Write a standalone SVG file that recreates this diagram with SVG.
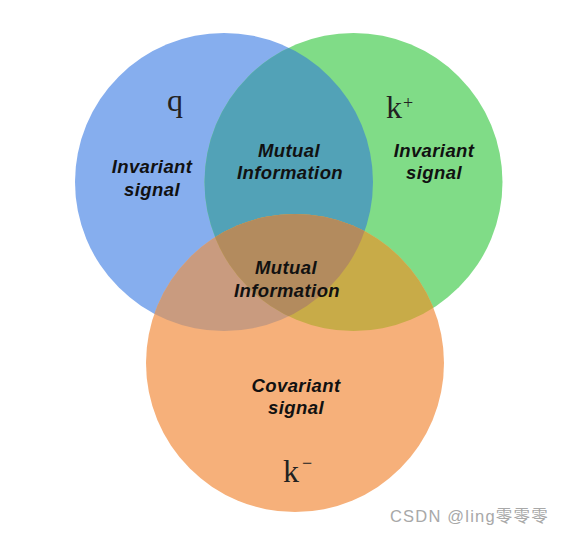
<svg xmlns="http://www.w3.org/2000/svg" width="562" height="536" viewBox="0 0 562 536">
<style>
.lbl{font-family:"Liberation Sans",Arial,sans-serif;font-weight:bold;font-style:italic;font-size:18.5px;fill:#111;text-anchor:middle;letter-spacing:0.4px}
.math{font-family:"Liberation Serif","Times New Roman",serif;fill:#222}
.wm{font-family:"Liberation Sans",Arial,"Noto Sans CJK SC",sans-serif;font-size:16.5px;fill:#a8a8a8;letter-spacing:1.2px}
</style>
<defs>
<clipPath id="cb"><circle cx="224" cy="182" r="149"/></clipPath>
<clipPath id="cg"><circle cx="353.5" cy="182" r="149"/></clipPath>
</defs>
<rect width="562" height="536" fill="#ffffff"/>
<g id="circles">
<circle id="blue" cx="224" cy="182" r="149" fill="#86aeee"/>
<circle id="green" cx="353.5" cy="182" r="149" fill="#80dc87"/>
<circle id="orange" cx="295" cy="363" r="149" fill="#f6b07a"/>
<g clip-path="url(#cb)"><circle cx="353.5" cy="182" r="149" fill="#52a2b7"/><circle cx="295" cy="363" r="149" fill="#c99b7f"/></g>
<g clip-path="url(#cg)"><circle cx="295" cy="363" r="149" fill="#c8ab48"/></g>
<g clip-path="url(#cb)"><g clip-path="url(#cg)"><circle cx="295" cy="363" r="149" fill="#b38b5e"/></g></g>
</g>
<g id="labels">
<text class="lbl" x="152" y="173">Invariant</text>
<text class="lbl" x="152" y="196">signal</text>
<text class="lbl" x="289" y="157">Mutual</text>
<text class="lbl" x="290" y="179">Information</text>
<text class="lbl" x="434" y="157">Invariant</text>
<text class="lbl" x="434" y="179">signal</text>
<text class="lbl" x="286" y="274">Mutual</text>
<text class="lbl" x="287" y="297">Information</text>
<text class="lbl" x="296" y="392">Covariant</text>
<text class="lbl" x="296" y="414">signal</text>
<text class="math" x="175" y="111" font-size="32" text-anchor="middle">q</text>
<text class="math" x="386" y="118" font-size="32">k</text>
<text class="math" x="403" y="109" font-size="18">+</text>
<text class="math" x="283" y="482" font-size="32">k</text>
<text class="math" x="302" y="469" font-size="18">−</text>
</g>
<text class="wm" x="390" y="522">CSDN @ling零零零</text>
</svg>
